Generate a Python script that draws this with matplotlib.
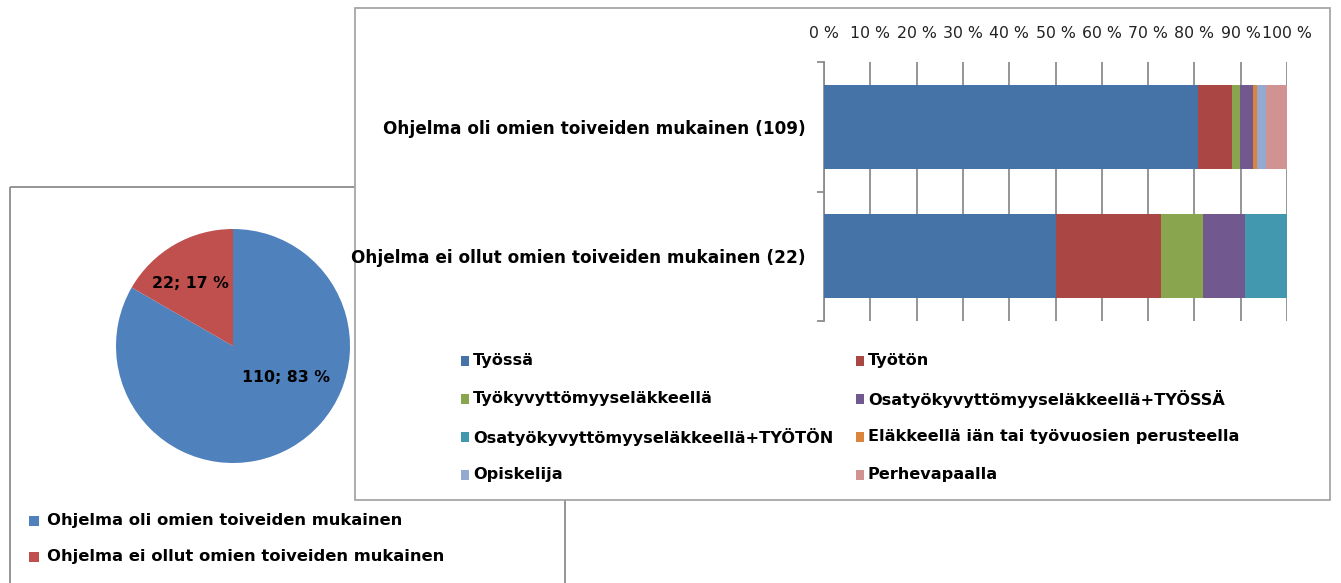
import numpy as np
import matplotlib.pyplot as plt
from matplotlib.patches import Rectangle

# pie data
pie_labels = ["Ohjelma oli omien toiveiden mukainen",
              "Ohjelma ei ollut omien toiveiden mukainen"]
pie_values = [110, 22]
pie_colors = ["#4F81BD", "#C0504D"]

# stacked bar data (counts per group)
categories = ["Ohjelma oli omien toiveiden mukainen (109)",
              "Ohjelma ei ollut omien toiveiden mukainen (22)"]
statuses = ["Työssä", "Työtön", "Työkyvyttömyyseläkkeellä",
            "Osatyökyvyttömyyseläkkeellä+TYÖSSÄ",
            "Osatyökyvyttömyyseläkkeellä+TYÖTÖN",
            "Eläkkeellä iän tai työvuosien perusteella",
            "Opiskelija", "Perhevapaalla"]
counts_oli = [88, 8, 2, 3, 0, 1, 2, 5]
counts_ei = [11, 5, 2, 2, 2, 0, 0, 0]
status_colors = ["#4572A7", "#AA4643", "#89A54E", "#71588F",
                 "#4198AF", "#DB843D", "#93A9CF", "#D19392"]
ticks = list(range(0, 101, 10))

W, H = 1341, 583
plt.rcParams['font.family'] = ['DejaVu Sans']
fig = plt.figure(figsize=(W / 100, H / 100), dpi=100)


def px_axes(x0, y0, x1, y1):
    # box in pixels, y counted from the top
    return fig.add_axes([x0 / W, 1 - y1 / H, (x1 - x0) / W, (y1 - y0) / H])


bg = fig.add_axes([0, 0, 1, 1])
bg.set_xlim(0, W)
bg.set_ylim(H, 0)
bg.axis('off')
bg.add_patch(Rectangle((10, 187), 555, 420, fill=False, ec='#8c8c8c', lw=1.3))
bg.add_patch(Rectangle((355, 8), 975, 492, fc='white', ec='#a6a6a6', lw=1.3))

# pie
pax = px_axes(116, 229, 350, 463)
pax.pie(pie_values, colors=pie_colors, startangle=90, counterclock=False)
pax.set_xlim(-1, 1)
pax.set_ylim(-1, 1)
total = sum(pie_values)
lab_pos = [(0.45, -0.265), (-0.36, 0.53)]
for v, (x, y) in zip(pie_values, lab_pos):
    pax.text(x, y, f"{v}; {round(v / total * 100)} %", ha='center', va='center',
             fontsize=11.3, fontweight='bold')

for i, lab in enumerate(pie_labels):
    y = 521 + i * 36
    bg.add_patch(Rectangle((29, y - 5), 10, 10, fc=pie_colors[i], ec='none'))
    bg.text(47, y, lab, va='center', ha='left', fontsize=11.8, fontweight='bold')

# stacked bars
ax = px_axes(824, 62, 1287, 321)
data = np.array([counts_oli, counts_ei], dtype=float)
pct = data / data.sum(axis=1, keepdims=True) * 100
ypos = np.arange(len(categories))
left = np.zeros(len(categories))
for j, s in enumerate(statuses):
    ax.barh(ypos, pct[:, j], left=left, height=0.65, color=status_colors[j], zorder=3)
    left += pct[:, j]

ax.set_xlim(0, 100)
ax.set_ylim(1.5, -0.5)
ax.set_xticks(ticks)
ax.set_xticklabels([f"{t} %" for t in ticks])
ax.xaxis.tick_top()
ax.tick_params(axis='x', length=0, pad=15, labelsize=11.3, labelcolor='#222222')
ax.grid(axis='x', color='#8c8c8c', lw=1.3, zorder=0)
ax.set_yticks([-0.5, 0.5, 1.5])
ax.set_yticklabels([])
ax.set_yticks(ypos, minor=True)
ax.set_yticklabels(categories, minor=True, fontweight='bold', fontsize=12.2)
ax.tick_params(axis='y', which='major', length=5, color='#8c8c8c', width=1.3)
ax.tick_params(axis='y', which='minor', length=0, pad=13)
for sp in ['top', 'right', 'bottom']:
    ax.spines[sp].set_visible(False)
ax.spines['left'].set_color('#8c8c8c')
ax.spines['left'].set_linewidth(1.3)
ax.patch.set_alpha(0)

# bar legend, two columns filled row by row
for i, s in enumerate(statuses):
    x = [461, 856][i % 2]
    y = 361 + (i // 2) * 38
    bg.add_patch(Rectangle((x, y - 5), 8, 10, fc=status_colors[i], ec='none'))
    bg.text(x + 12, y, s, va='center', ha='left', fontsize=11.6, fontweight='bold')

fig.savefig("out.png", dpi=100)
